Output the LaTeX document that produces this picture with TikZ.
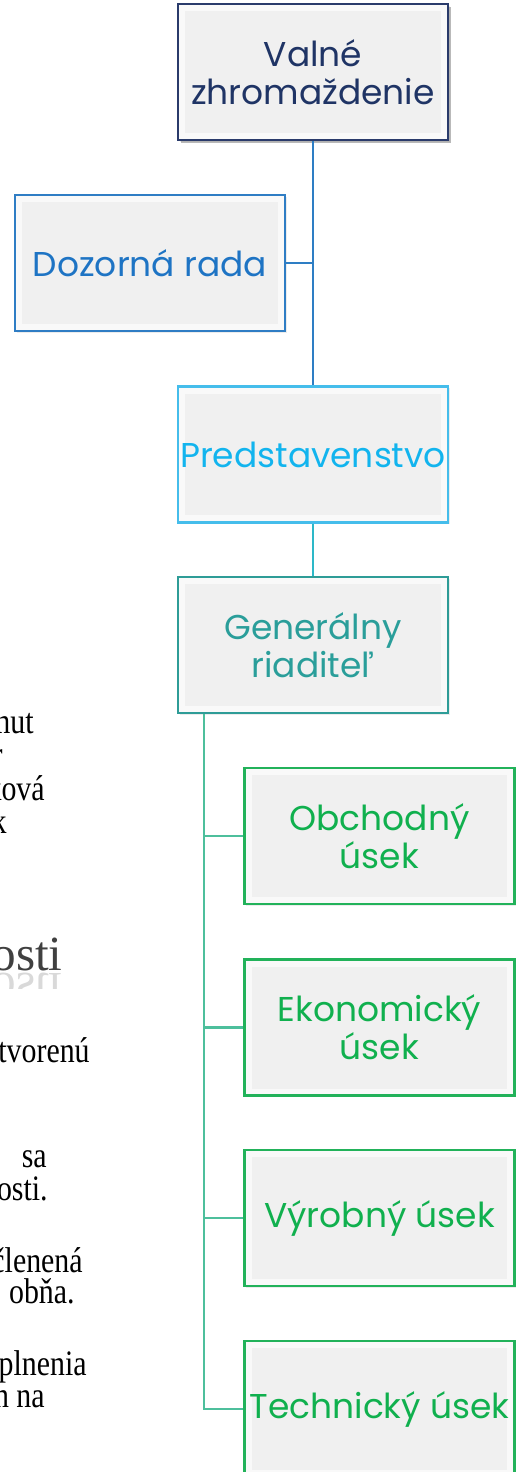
\documentclass[tikz,border=0pt]{standalone}
\usepackage{fontspec}
\setmainfont{Liberation Serif}
\newfontfamily\orgfont{Poppins}
\usetikzlibrary{calc,shadows}
\definecolor{orgnavy}{HTML}{2A3B6B}
\definecolor{orgnavytext}{HTML}{1F3465}
\definecolor{orgblue}{HTML}{2F7DC4}
\definecolor{orgbluetext}{HTML}{1E74C4}
\definecolor{orgsky}{HTML}{45BDEB}
\definecolor{orgskytext}{HTML}{12B4EE}
\definecolor{orgteal}{HTML}{2E9C97}
\definecolor{orgtealtext}{HTML}{2A9E9A}
\definecolor{orggreen}{HTML}{22B25A}
\definecolor{orggreentext}{HTML}{10B04E}
\definecolor{orgfill}{HTML}{F0F0F0}
\definecolor{orgbevel}{HTML}{F9F9F9}
\definecolor{linkblue}{HTML}{2E7EC4}
\definecolor{linkteal}{HTML}{2DB8C8}
\definecolor{linkgreen}{HTML}{4DBF9C}
\definecolor{pagegray}{HTML}{404040}
\tikzset{
  orgbox/.style={fill=orgbevel, line width=1.2pt, minimum width=5.4cm,
    minimum height=2.72cm, inner sep=0pt, align=center,
    font=\orgfont\fontsize{19.6}{21.5}\selectfont,
    drop shadow={shadow xshift=1pt, shadow yshift=-1pt, opacity=.15},
    path picture={\fill[orgfill]
      ($(path picture bounding box.north west)+(7,7)$) rectangle
      ($(path picture bounding box.south east)+(-7,-7)$);}},
  navybox/.style={orgbox, draw=orgnavy, text=orgnavytext,
    drop shadow={shadow xshift=1.6pt, shadow yshift=-1.6pt, opacity=.55}},
  bluebox/.style={orgbox, draw=orgblue, text=orgbluetext},
  skybox/.style={orgbox, draw=orgsky, text=orgskytext},
  tealbox/.style={orgbox, draw=orgteal, text=orgtealtext},
  greenbox/.style={orgbox, draw=orggreen, text=orggreentext},
  bluelink/.style={draw=linkblue, line width=1.6pt},
  teallink/.style={draw=linkteal, line width=1.6pt},
  greenlink/.style={draw=linkgreen, line width=1.6pt},
  pagetext/.style={font=\fontsize{17}{19}\selectfont, text=black,
    anchor=base east, inner sep=0pt, yscale=1.2, transform shape},
  pagetitle/.style={font=\fontsize{28}{30}\selectfont, text=pagegray,
    anchor=base east, inner sep=0pt}
}
\begin{document}
\begin{tikzpicture}[x=0.02cm,y=-0.02cm]
  \useasboundingbox (0,0) rectangle (516,1472);
  % text of the page behind the chart, cut at the left edge
  \foreach \x/\y/\t in {34/733/hut, 3/766/r, 45/800/ková, 7/833/k,
    90/1062/tvorenú, 47/1167/sa, 48/1200/osti., 83/1272/členená,
    75/1303/obňa., 87/1375/plnenia, 45/1407/n na} {
    \node[pagetext] at (\x,\y) {\t};
  }
  \node[pagetitle] (osti) at (63,970) {osti};
  \begin{scope}
    \clip (0,971) rectangle (80,988);
    \begin{scope}[shift={(63,973)}, yscale=-1]
      \node[pagetitle, transform shape, opacity=.2] (ostiflip) at (0,0) {osti};
    \end{scope}
  \end{scope}

  % the chart
  \node[navybox] (valne) at (313,72) {Valné\\zhromaždenie};
  \node[bluebox] (dozor) at (150,263) {Dozorná rada};
  \node[skybox] (pred) at (313,454.5) {Predstavenstvo};
  \node[tealbox] (gen) at (313,645) {Generálny\\riaditeľ};
  \node[greenbox] (obch) at (379.5,836) {Obchodný\\úsek};
  \node[greenbox] (ekon) at (379.5,1027.5) {Ekonomický\\úsek};
  \node[greenbox] (vyrob) at (379.5,1218) {Výrobný úsek};
  \node[greenbox] (tech) at (379.5,1409) {Technický úsek};

  \draw[bluelink] (valne.south) -- (pred.north);
  \draw[bluelink] (dozor.east) -- (dozor.east -| valne.south);
  \draw[teallink] (pred.south) -- (gen.north);
  \coordinate (kmen) at ($(gen.south west)+(27,0)$);
  \draw[greenlink] (kmen) |- (tech.west);
  \foreach \u in {obch,ekon,vyrob} {
    \draw[greenlink] (kmen |- \u.west) -- (\u.west);
  }
\end{tikzpicture}
\end{document}
